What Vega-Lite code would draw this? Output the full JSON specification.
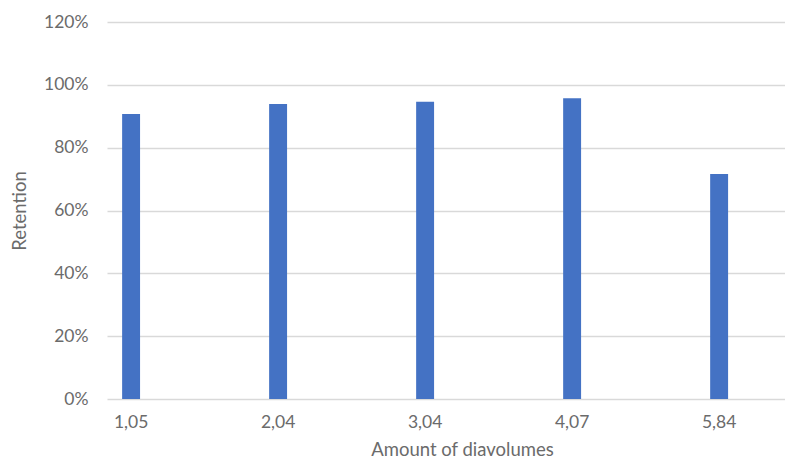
{
  "$schema": "https://vega.github.io/schema/vega-lite/v6.json",
  "width": 678,
  "height": 377,
  "autosize": {"type": "none"},
  "padding": {"left": 107, "top": 22, "right": 0, "bottom": 71},
  "background": "white",
  "config": {
    "view": {"stroke": null},
    "font": "Lato",
    "axis": {"labelFont": "Lato", "titleFont": "Lato", "labelColor": "#6b6b6b", "titleColor": "#6b6b6b", "labelFontSize": 17.5, "titleFontSize": 18.5, "titleFontWeight": "normal"}
  },
  "data": {
    "values": [
      {"amount": "1,05", "retention": 0.907},
      {"amount": "2,04", "retention": 0.939},
      {"amount": "3,04", "retention": 0.946},
      {"amount": "4,07", "retention": 0.957},
      {"amount": "5,84", "retention": 0.716}
    ]
  },
  "mark": {"type": "bar", "color": "#4472C4"},
  "encoding": {
    "x": {
      "field": "amount",
      "type": "ordinal",
      "sort": null,
      "scale": {"paddingInner": 0.878, "paddingOuter": 0.245, "align": 0.21},
      "axis": {
        "title": "Amount of diavolumes",
        "labelAngle": 0,
        "ticks": false,
        "domain": false,
        "labelPadding": 14,
        "titlePadding": 10,
        "titleX": 355,
        "titleAnchor": "middle"
      }
    },
    "y": {
      "field": "retention",
      "type": "quantitative",
      "scale": {"domain": [0, 1.2]},
      "axis": {
        "title": "Retention",
        "format": ".0%",
        "values": [0, 0.2, 0.4, 0.6, 0.8, 1.0, 1.2],
        "ticks": false,
        "domain": false,
        "gridColor": "#d9d9d9",
        "gridWidth": 1.5,
        "labelPadding": 19,
        "titlePadding": 14
      }
    }
  }
}
